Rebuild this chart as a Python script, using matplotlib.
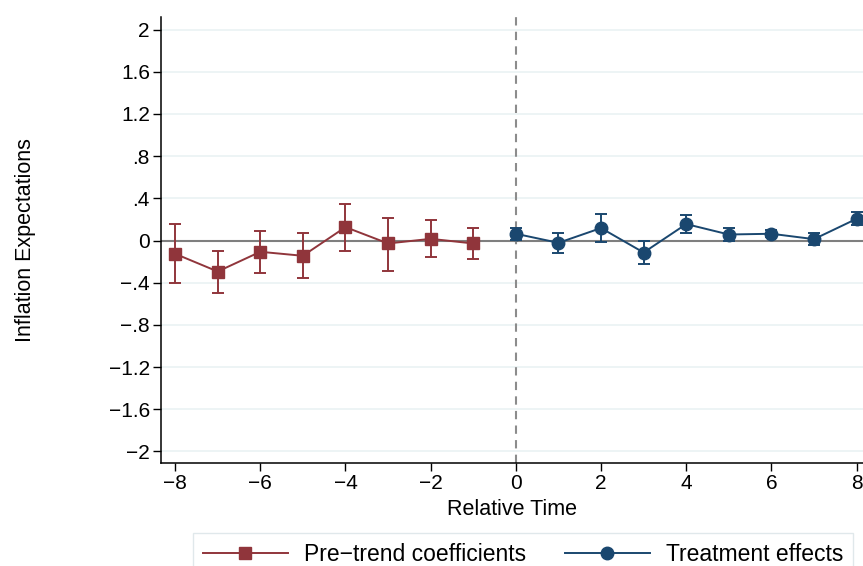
import matplotlib
matplotlib.use("Agg")
import matplotlib.pyplot as plt
from matplotlib.lines import Line2D
import numpy as np

plt.rcParams['font.family'] = ['Liberation Sans', 'DejaVu Sans']

# pre-trend coefficients
pre_t = [-8, -7, -6, -5, -4, -3, -2, -1]
pre_b = [-0.126, -0.294, -0.107, -0.145, 0.127, -0.028, 0.016, -0.028]
pre_hi = [0.158, -0.095, 0.092, 0.073, 0.342, 0.218, 0.190, 0.118]
pre_lo = [-0.400, -0.494, -0.304, -0.354, -0.095, -0.285, -0.152, -0.177]

# treatment effects
post_t = [0, 1, 2, 3, 4, 5, 6, 7, 8]
post_b = [0.064, -0.022, 0.118, -0.114, 0.156, 0.057, 0.064, 0.013, 0.206]
post_hi = [0.118, 0.070, 0.247, -0.006, 0.244, 0.118, 0.095, 0.073, 0.270]
post_lo = [0.007, -0.114, -0.010, -0.221, 0.070, 0.000, 0.032, -0.041, 0.146]

yticks = [-2, -1.6, -1.2, -0.8, -0.4, 0, 0.4, 0.8, 1.2, 1.6, 2]
xticks = [-8, -6, -4, -2, 0, 2, 4, 6, 8]

red = '#90353b'
navy = '#1a476f'


def stata_lbl(v):
    s = ('%g' % abs(v))
    if s.startswith('0.'):
        s = s[1:]
    return ('\u2212' + s) if v < 0 else s


fig = plt.figure(figsize=(8.63, 5.66), dpi=100)
ax = fig.add_axes([0.1866, 0.182, 1 - 0.1866, 0.788])

for y in yticks:
    ax.axhline(y, color='#eaf2f3', lw=1.2, zorder=0)
ax.axhline(0, color='#7f7f7f', lw=1.5, zorder=1)
ax.axvline(0, color='#8c8c8c', lw=1.5, ls=(0, (4, 3)), zorder=1)

pre = np.array(pre_b)
ax.errorbar(pre_t, pre, yerr=[pre - np.array(pre_lo), np.array(pre_hi) - pre],
            color=red, marker='s', ms=9, lw=1.4, elinewidth=1.4,
            capsize=4.5, capthick=1.4, zorder=3)
post = np.array(post_b)
ax.errorbar(post_t, post, yerr=[post - np.array(post_lo), np.array(post_hi) - post],
            color=navy, marker='o', ms=9, lw=1.4, elinewidth=1.4,
            capsize=4.5, capthick=1.4, zorder=3)

ax.set_xlim(-8.33, 8.15)
ax.set_ylim(-2.11, 2.12)
ax.set_yticks(yticks)
ax.set_yticklabels([stata_lbl(v) for v in yticks])
ax.set_xticks(xticks)
ax.set_xticklabels([stata_lbl(v) for v in xticks])
ax.tick_params(direction='out', length=6, width=1, labelsize=15, colors='black')
ax.tick_params(axis='x', pad=2)
ax.tick_params(axis='y', pad=2)

for s in ['top', 'right']:
    ax.spines[s].set_visible(False)
for s in ['left', 'bottom']:
    ax.spines[s].set_linewidth(1.1)

ax.set_xlabel('Relative Time', fontsize=15.5, labelpad=4)
ax.set_ylabel('Inflation Expectations', fontsize=15.5, labelpad=52)

handles = [
    Line2D([], [], color=red, marker='s', ms=9, lw=1.4),
    Line2D([], [], color=navy, marker='o', ms=9, lw=1.4),
]
labels = ['Pre\u2212trend coefficients', 'Treatment effects']
leg = fig.legend(handles, labels, loc='upper center', bbox_to_anchor=(0.606, 0.058), ncol=2,
                 fontsize=16.5, frameon=True, fancybox=False, edgecolor='#d9e3e6',
                 handlelength=3.7, handletextpad=0.7, columnspacing=1.7,
                 borderpad=0.45, borderaxespad=0)
leg.get_frame().set_linewidth(1.0)

fig.savefig('out.png', dpi=100)
